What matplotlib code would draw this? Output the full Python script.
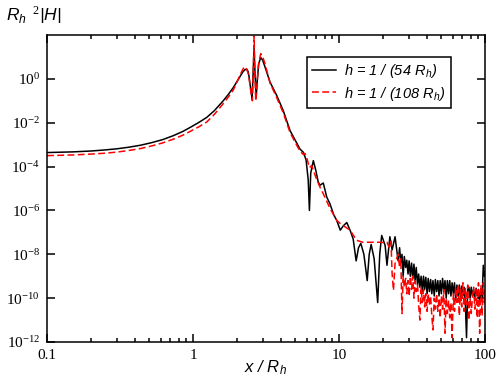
import numpy as np
import matplotlib
matplotlib.use("Agg")
import matplotlib.pyplot as plt
from matplotlib.ticker import LogLocator, NullFormatter, FixedLocator

plt.rcParams['font.family'] = ['Liberation Serif', 'DejaVu Serif']
plt.rcParams['mathtext.fontset'] = 'custom'
plt.rcParams['mathtext.it'] = 'Liberation Sans:italic'
plt.rcParams['mathtext.rm'] = 'Liberation Serif'
plt.rcParams['mathtext.default'] = 'it'

# h = 1/(54 R_h): x / R_h and log10(R_h^2 |H|), smooth part + first oscillations
black_x = [0.1, 0.15, 0.2, 0.25, 0.3, 0.36, 0.434, 0.52, 0.62, 0.733, 0.85, 0.953, 1.1,
           1.24, 1.4, 1.61, 1.75, 1.89, 2.0, 2.10, 2.2, 2.27, 2.33, 2.38, 2.42, 2.50,
           2.54, 2.58, 2.62, 2.66, 2.71, 2.76, 2.82, 2.91, 3.0, 3.11, 3.37, 3.74, 4.15,
           4.62, 5.40, 5.70, 5.95, 6.15, 6.27, 6.40, 6.67, 6.95, 7.2, 7.41, 7.8, 8.24,
           8.67, 9.2, 9.64, 10.2, 10.7, 11.3, 11.9, 12.5, 13.1, 13.6, 14.1, 14.8, 15.6,
           16.1, 16.6, 17.4, 18.4, 19.0, 19.6, 20.7, 21.3, 22.3, 23.1, 24.2, 25.4]
black_logy = [-3.36, -3.33, -3.29, -3.24, -3.19, -3.12, -3.03, -2.91, -2.77, -2.59,
              -2.40, -2.22, -1.98, -1.76, -1.45, -1.0, -0.7, -0.39, -0.12, 0.12, 0.33,
              0.42, 0.44, 0.35, 0.10, -0.6, -0.9, 0.3, 1.4, 0.2, -0.8, 0.0, 0.7, 0.97,
              0.85, 0.55, -0.15, -0.75, -1.45, -2.36, -3.2, -3.35, -3.7, -4.6, -6.0,
              -4.3, -3.73, -4.2, -4.7, -4.85, -4.75, -5.39, -5.7, -6.2, -6.45, -6.9,
              -6.7, -6.55, -6.9, -7.3, -8.3, -7.7, -7.5, -8.0, -9.2, -8.0, -7.55, -8.2,
              -10.2, -8.0, -7.14, -7.6, -8.5, -7.2, -7.8, -7.2, -8.3]

# h = 1/(108 R_h)
red_x = [0.1, 0.15, 0.2, 0.25, 0.3, 0.36, 0.434, 0.52, 0.62, 0.733, 0.85, 0.953, 1.1,
         1.24, 1.4, 1.61, 1.75, 1.89, 2.0, 2.10, 2.2, 2.24, 2.28, 2.33, 2.40, 2.48,
         2.55, 2.59, 2.62, 2.65, 2.69, 2.74, 2.80, 2.91, 3.0, 3.11, 3.37, 3.74, 4.15,
         4.62, 5.40, 5.70, 5.85, 6.01, 6.27, 6.5, 6.95, 7.41, 7.8, 8.67, 9.64, 10.2,
         11.3, 11.9, 13.2, 14.5, 16.6, 18.4, 19.6, 20.7, 21.3, 22.0, 22.7, 23.1, 23.6,
         24.2, 25.4]
red_logy = [-3.50, -3.47, -3.43, -3.39, -3.34, -3.27, -3.18, -3.06, -2.92, -2.75,
            -2.57, -2.40, -2.18, -1.97, -1.62, -1.13, -0.82, -0.5, -0.15, 0.18, 0.45,
            0.53, 0.55, 0.45, 0.2, -0.5, -1.0, 0.5, 1.95, 0.3, -1.0, -0.3, 0.6, 1.15,
            1.0, 0.7, -0.2, -0.85, -1.55, -2.45, -3.3, -3.45, -3.4, -3.6, -4.05, -3.95,
            -4.5, -4.94, -5.24, -5.9, -6.45, -6.6, -6.8, -6.9, -7.36, -7.45, -7.45,
            -7.45, -7.45, -7.5, -7.45, -7.67, -7.4, -8.88, -9.64, -8.42, -8.0]

# noisy tail, both resolutions sampled at the same x
tail_x = [26, 26.5, 27, 27.5, 28, 28.6, 29.1, 29.7, 30.2, 30.8, 31.4, 32, 32.6, 33.2,
          33.8, 34.5, 35.1, 35.8, 36.5, 37.2, 37.9, 38.6, 39.3, 40.1, 40.8, 41.6, 42.4,
          43.2, 44, 44.9, 45.7, 46.6, 47.5, 48.4, 49.3, 50.2, 51.2, 52.2, 53.2, 54.2,
          55.2, 56.3, 57.3, 58.4, 59.5, 60.7, 61.8, 63, 64.2, 65.4, 66.7, 67.9, 69.2,
          70.6, 71.9, 73.3, 74.7, 76.1, 77.6, 79, 80.5, 82.1, 83.6, 85.2, 86.9, 88.5,
          90.2, 91.9, 93.7, 95.5, 97.3, 99.1, 100]
black_tail_logy = [-7.7, -8.4, -8.0, -9.0, -8.1, -8.6, -8.27, -8.9, -8.3, -9.0, -8.4,
                   -9.1, -8.45, -9.2, -8.6, -9.4, -8.9, -9.5, -9.0, -9.7, -9.0, -9.6,
                   -9.05, -9.8, -9.1, -9.7, -9.15, -9.8, -9.2, -9.9, -9.15, -9.7, -9.2,
                   -9.9, -9.2, -9.8, -9.1, -9.7, -9.2, -10.0, -9.2, -9.8, -9.2, -9.9,
                   -9.3, -9.8, -9.3, -10.1, -9.4, -9.9, -9.4, -10.0, -9.45, -9.9, -9.5,
                   -10.2, -11.8, -9.6, -9.5, -10.0, -9.5, -9.9, -9.6, -10.1, -9.55,
                   -9.9, -9.6, -10.2, -9.6, -10.0, -8.5, -9.0, -8.8]
red_tail_logy = [-8.6, -8.2, -10.7, -9.0, -9.5, -9.1, -9.8, -9.2, -9.9, -9.0, -9.6,
                 -9.0, -10.0, -9.2, -9.7, -9.4, -10.3, -11.0, -9.5, -10.2, -9.6, -10.4,
                 -9.8, -10.6, -9.8, -10.3, -9.9, -10.8, -11.45, -10.0, -10.5, -9.8,
                 -10.6, -10.0, -10.9, -9.9, -10.5, -9.6, -11.6, -10.0, -10.7, -10.1,
                 -10.9, -10.2, -11.8, -9.8, -10.6, -9.5, -10.2, -9.4, -10.8, -9.6,
                 -10.4, -9.3, -10.6, -9.5, -10.3, -9.4, -11.0, -10.0, -10.7, -9.9,
                 -9.5, -10.5, -9.6, -10.9, -9.3, -11.6, -9.4, -10.8, -9.3, -10.2, -9.6]

labels = [r"h = 1 / (54 R$_h$)", r"h = 1 / (108 R$_h$)"]

bx = np.array(black_x + tail_x)
by = 10.0 ** np.array(black_logy + black_tail_logy)
rx = np.array(red_x + tail_x)
ry = 10.0 ** np.array(red_logy + red_tail_logy)

fig = plt.figure(figsize=(4.97, 3.83), dpi=100)
ax = fig.add_axes([0.0946, 0.107, 0.8813, 0.8016])

ax.plot(bx, by, color='black', lw=1.1, label=labels[0])
ax.plot(rx, ry, color='#ff0000', lw=1.1, dashes=(4.5, 2.2), label=labels[1])

ax.set_xscale('log')
ax.set_yscale('log')
ax.set_xlim(0.1, 100)
ax.set_ylim(1e-12, 1e2)

ax.yaxis.set_major_locator(FixedLocator([10.0 ** k for k in range(-12, 1, 2)]))
ax.yaxis.set_minor_locator(FixedLocator([]))
ax.xaxis.set_minor_locator(LogLocator(base=10, subs=np.arange(2, 10)))
ax.xaxis.set_minor_formatter(NullFormatter())
ax.set_xticks([0.1, 1, 10, 100])
ax.set_xticklabels(['0.1', '1', '10', '100'])

ax.tick_params(which='both', direction='in', top=True, right=True, width=1.1,
               labelsize=11, pad=5)
ax.tick_params(which='major', length=6)
ax.tick_params(which='minor', length=3)
for s in ax.spines.values():
    s.set_linewidth(1.1)

leg = ax.legend(loc='upper right', bbox_to_anchor=(0.922, 0.928), borderaxespad=0,
                fancybox=False, frameon=True, edgecolor='black', framealpha=1,
                handlelength=1.6, handletextpad=0.6, borderpad=0.35, labelspacing=0.3,
                prop={'family': 'Liberation Sans', 'style': 'italic', 'size': 10.5})
leg.get_frame().set_linewidth(1.1)

fig.text(265 / 497, 1 - 372 / 383, r"x / R$_h$", ha='center', va='baseline',
         family='Liberation Sans', style='italic', fontsize=12)
fig.text(6 / 497, 1 - 21 / 383, r"R$_h$$^{\ \ 2}$|H|", ha='left', va='baseline',
         family='Liberation Sans', style='italic', fontsize=12.5)

fig.savefig("out.png", dpi=100)
